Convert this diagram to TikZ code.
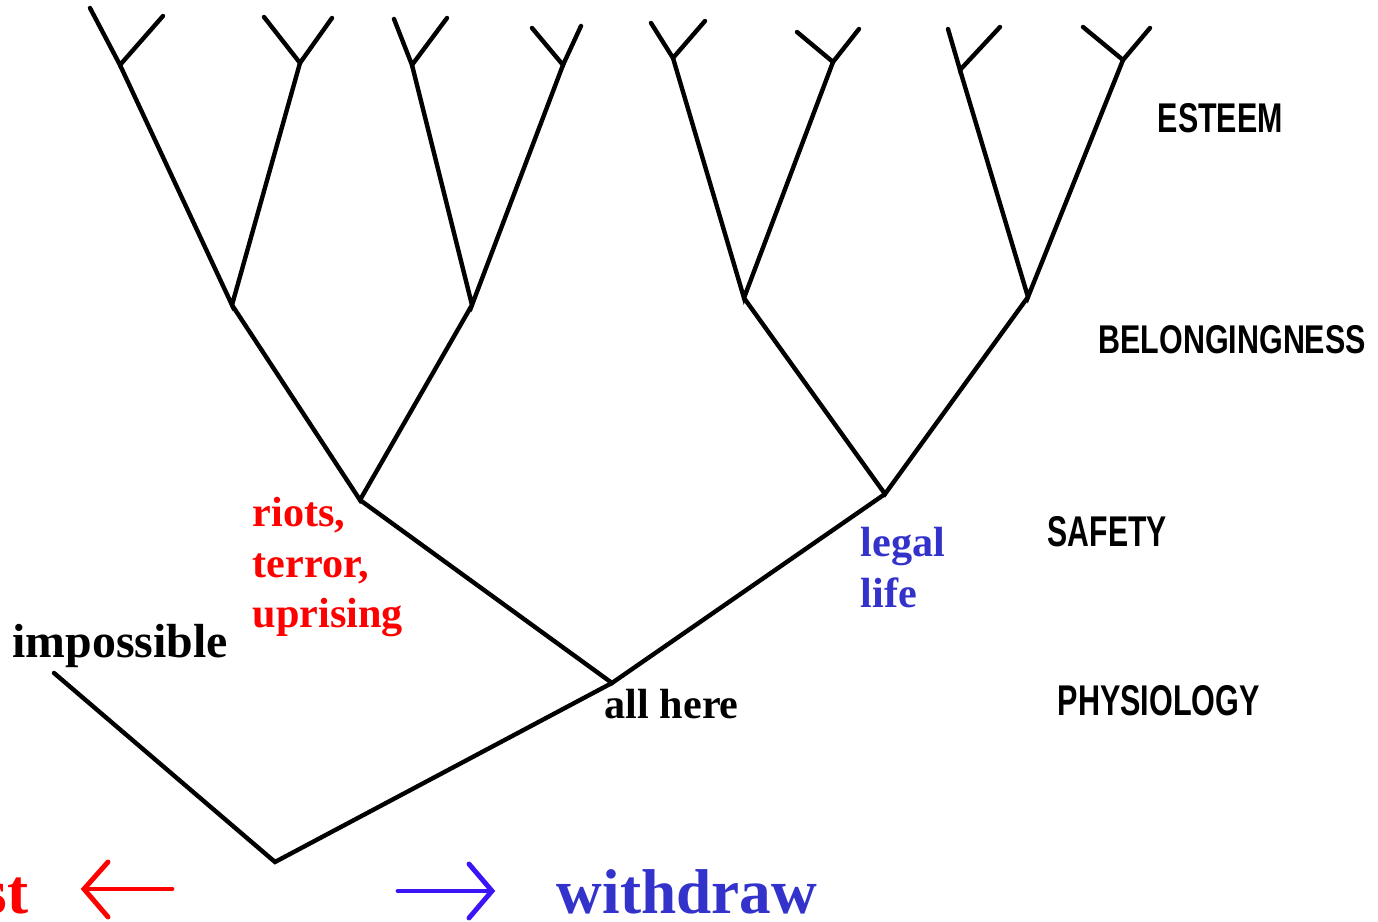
\documentclass[tikz,border=0pt]{standalone}
\usepackage{fontspec}
\usepackage{graphicx}
\setmainfont{Liberation Serif}
\newfontfamily\capsfont{Liberation Sans}
\definecolor{lblred}{RGB}{255,0,0}
\definecolor{lblblue}{RGB}{51,51,204}
\definecolor{arrblue}{RGB}{60,20,245}
\begin{document}
\begin{tikzpicture}[x=0.01cm,y=-0.01cm,
  branch/.style={line width=1.25pt,line cap=round,black},
  serif/.style={inner sep=0pt,anchor=base west,font=\fontsize{12}{14}\selectfont\bfseries},
  level/.style={inner sep=0pt,anchor=north west},
  arrowline/.style={line width=1.4pt,line cap=round}]
\useasboundingbox (0,0) rectangle (1378,922);
% tree junctions
\coordinate (r) at (275,862);
\coordinate (imp) at (54,673);
\coordinate (a) at (612,683);
\coordinate (b) at (360,500);
\coordinate (c) at (885,494);
\coordinate (d) at (232,305);
\coordinate (e) at (472,305);
\coordinate (f) at (744,298);
\coordinate (g) at (1028,297);
\coordinate (t1) at (120,65);  \coordinate (t1l) at (90,8);    \coordinate (t1r) at (163,16);
\coordinate (t2) at (300,63);  \coordinate (t2l) at (264,17);  \coordinate (t2r) at (332,18);
\coordinate (t3) at (412,65);  \coordinate (t3l) at (394,19);  \coordinate (t3r) at (447,18);
\coordinate (t4) at (563,65);  \coordinate (t4l) at (532,28);  \coordinate (t4r) at (581,26);
\coordinate (t5) at (673,58);  \coordinate (t5l) at (651,23);  \coordinate (t5r) at (705,21);
\coordinate (t6) at (833,62);  \coordinate (t6l) at (797,32);  \coordinate (t6r) at (859,29);
\coordinate (t7) at (960,70);  \coordinate (t7l) at (948,29);  \coordinate (t7r) at (1000,27);
\coordinate (t8) at (1123,60); \coordinate (t8l) at (1083,27); \coordinate (t8r) at (1150,28);
% branches
\draw[branch] (imp) -- (r) -- (a);
\draw[branch] (b) -- (a) -- (c);
\draw[branch] (d) -- (b) -- (e);
\draw[branch] (f) -- (c) -- (g);
\draw[branch] (t1) -- (d) -- (t2);
\draw[branch] (t3) -- (e) -- (t4);
\draw[branch] (t5) -- (f) -- (t6);
\draw[branch] (t7) -- (g) -- (t8);
\foreach \t in {t1,t2,t3,t4,t5,t6,t7,t8}{
  \draw[branch] (\t l) -- (\t) -- (\t r);
}
% level labels
\node[level] (esteem) at (1157,103) {\resizebox{1.25cm}{0.29cm}{\capsfont\bfseries ESTEEM}};
\node[level] (belong) at (1098,325) {\resizebox{2.67cm}{0.28cm}{\capsfont\bfseries BELONGINGNESS}};
\node[level] (safety) at (1047,516) {\resizebox{1.19cm}{0.30cm}{\capsfont\bfseries SAFETY}};
\node[level] (physio) at (1057,685) {\resizebox{2.02cm}{0.30cm}{\capsfont\bfseries PHYSIOLOGY}};
% serif labels
\node[serif,font=\fontsize{13.6}{16}\selectfont\bfseries] (impl) at (12,658) {impossible};
\node[serif,text=lblred] (riots) at (252,527) {riots,};
\node[serif,text=lblred] (terror) at (252,578) {terror,};
\node[serif,text=lblred] (upr) at (252,628) {uprising};
\node[serif,text=lblblue] (legal) at (860,557) {legal};
\node[serif,text=lblblue] (life) at (860,608) {life};
\node[serif] (allhere) at (604,719) {all here};
\node[inner sep=0pt,anchor=base east,text=lblred,font=\fontsize{18}{20}\selectfont\bfseries] (st) at (29,914) {st};
\node[serif,text=lblblue,font=\fontsize{18}{20}\selectfont\bfseries] (withdraw) at (556,914) {withdraw};
% arrows
\coordinate (la0) at (172,889); \coordinate (la1) at (84,889);
\coordinate (la2) at (108,862); \coordinate (la3) at (108,917);
\draw[arrowline,lblred] (la0) -- (la1);
\draw[arrowline,lblred] (la2) -- (la1) -- (la3);
\coordinate (ra0) at (398,891); \coordinate (ra1) at (492,891);
\coordinate (ra2) at (469,864); \coordinate (ra3) at (469,918);
\draw[arrowline,arrblue] (ra0) -- (ra1);
\draw[arrowline,arrblue] (ra2) -- (ra1) -- (ra3);
\end{tikzpicture}
\end{document}
